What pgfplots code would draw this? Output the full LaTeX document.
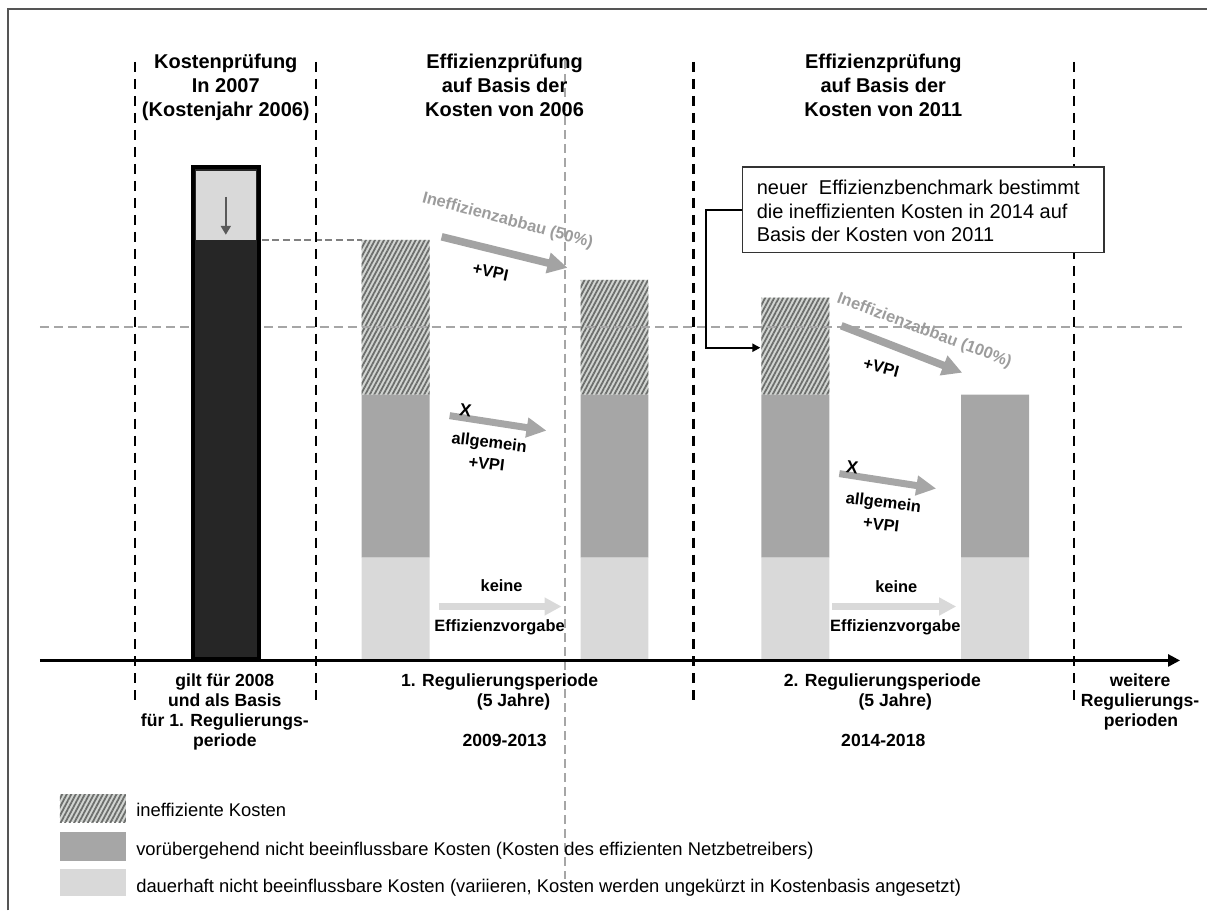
\documentclass[border=0pt]{standalone}
\usepackage{pgfplots}
\pgfplotsset{compat=1.18}
\usepackage{pgfplotstable}
\usepackage{fontspec}
\setmainfont{Liberation Sans}
\usetikzlibrary{arrows.meta,patterns.meta}
\definecolor{cLight}{HTML}{D9D9D9}
\definecolor{cMid}{HTML}{A6A6A6}
\definecolor{cDark}{HTML}{262626}
\definecolor{cHatchBg}{HTML}{D2D5D2}
\definecolor{cHatchFg}{HTML}{6C6E6C}
\definecolor{cArrow}{HTML}{A3A3A3}
\definecolor{cGrayDash}{HTML}{A6A6A6}
\definecolor{cGrayText}{HTML}{9C9C9C}
\definecolor{cFrame}{HTML}{555555}
\tikzset{hatch/.style={fill=cHatchBg, postaction={pattern={Lines[angle=62,distance=2pt,line width=0.9pt]}, pattern color=cHatchFg}}}
\newcommand\fT{\fontsize{10}{12}\selectfont\bfseries}
\newcommand\fB{\fontsize{8.8}{10}\selectfont\bfseries}
\newcommand\fA{\fontsize{8.2}{9.5}\selectfont\bfseries}
\newcommand\fX{\fontsize{8.8}{10}\selectfont\bfseries}
\newcommand\fBox{\fontsize{10}{11.5}\selectfont}
\newcommand\fL{\fontsize{9.2}{10.5}\selectfont}

\pgfplotstableread{
x light mid ineff
396 102 163 155
615 102 163 115
796 102 163 97
996 102 163 0
}\bars

\pgfplotsset{base/.style={scale only axis, width=604pt, height=455.5pt,
  xmin=0, xmax=1208, ymin=-251, ymax=660, hide axis, clip=false}}
\begin{document}
\begin{tikzpicture}
\begin{axis}[base, ybar stacked, bar width=68]
\addplot[fill=cLight, draw=none] table[x=x,y=light]{\bars};
\addplot[fill=cMid, draw=none] table[x=x,y=mid]{\bars};
\addplot[hatch, draw=none] table[x=x,y=ineff]{\bars};
\end{axis}
\begin{axis}[base]
\addplot[draw=none] coordinates {(0,-251) (1208,660)};
% frame
\draw[cFrame, line width=1pt] (axis cs:8,-251) -- (axis cs:8,651) -- (axis cs:1208,651);
% gray dashed guides
\addplot[cGrayDash, line width=1pt, dash pattern=on 4.5pt off 2.5pt] coordinates {(40,333) (1185,333)};
\addplot[cGrayDash, line width=1pt, dash pattern=on 4.5pt off 2.5pt] coordinates {(565,600) (565,-220)};
\addplot[black!50, line width=1pt, dash pattern=on 3.5pt off 1.8pt] coordinates {(262,420) (362,420)};
% black dashed period separators
\addplot[black, line width=1.2pt, dash pattern=on 5pt off 3.5pt] coordinates {(135,598) (135,-43)};
\addplot[black, line width=1.2pt, dash pattern=on 5pt off 3.5pt] coordinates {(316,598) (316,-43)};
\addplot[black, line width=1.2pt, dash pattern=on 5pt off 3.5pt] coordinates {(694,598) (694,-43)};
\addplot[black, line width=1.2pt, dash pattern=on 5pt off 3.5pt] coordinates {(1075,598) (1075,-43)};
% time axis
\addplot[black, line width=1.3pt, -{Triangle[length=6pt,width=6pt]}] coordinates {(40,-1) (1181,-1)};
% cost check bar 2006
\addplot[ybar, bar width=66, fill=cDark, draw=black, line width=2.2pt] coordinates {(226,493)};
\addplot[fill=cLight, draw=none] coordinates {(196,420) (256,420) (256,489) (196,489)};
\addplot[black!65, line width=1pt, -{Triangle[length=4.5pt,width=5pt]}] coordinates {(226,463) (226,425)};
% arrows
\addplot[cArrow, line width=3.8pt, -{Triangle[length=10pt,width=10pt]}] coordinates {(442,423) (568,392)};
\addplot[cArrow, line width=3.8pt, -{Triangle[length=10pt,width=10pt]}] coordinates {(842,334) (963,287)};
\addplot[cMid, line width=3.5pt, -{Triangle[length=10pt,width=9.5pt]}] coordinates {(450,244) (547,229)};
\addplot[cMid, line width=3.5pt, -{Triangle[length=10pt,width=9.5pt]}] coordinates {(840,186) (937,171)};
\addplot[cLight, line width=3.5pt, -{Triangle[length=8.5pt,width=8.5pt]}] coordinates {(439,53) (562,53)};
\addplot[cLight, line width=3.5pt, -{Triangle[length=8.5pt,width=8.5pt]}] coordinates {(833,53) (957,53)};
% connector and text box
\addplot[black, line width=1pt, -{Triangle[length=4pt,width=4pt]}] coordinates {(743,450) (707,450) (707,312) (761,312)};
\filldraw[fill=white, draw=black!80, line width=0.7pt] (axis cs:743,407) rectangle (axis cs:1105,493);
\node[font=\fBox, anchor=base west, inner sep=0] at (axis cs:757,465) {neuer\ \ Effizienzbenchmark bestimmt};
\node[font=\fBox, anchor=base west, inner sep=0] at (axis cs:757,441.5) {die ineffizienten Kosten in 2014 auf};
\node[font=\fBox, anchor=base west, inner sep=0] at (axis cs:757,418) {Basis der Kosten von 2011};
% arrow labels
\node[font=\fA, text=cGrayText, rotate=-15, inner sep=0] at (axis cs:508,439) {Ineffizienzabbau (50\%)};
\node[font=\fA, rotate=-12, inner sep=0] at (axis cs:491,388) {+VPI};
\node[font=\fA, text=cGrayText, rotate=-20.5, inner sep=0] at (axis cs:925,329) {Ineffizienzabbau (100\%)};
\node[font=\fA, rotate=-15, inner sep=0] at (axis cs:882,292) {+VPI};
\node[font=\fX, rotate=-8, inner sep=0] at (axis cs:466,249) {X};
\node[font=\fA, rotate=-7, inner sep=0] at (axis cs:489.5,216) {allgemein};
\node[font=\fA, rotate=-7, inner sep=0] at (axis cs:487,196) {+VPI};
\node[font=\fX, rotate=-8, inner sep=0] at (axis cs:853,192) {X};
\node[font=\fA, rotate=-7, inner sep=0] at (axis cs:884,156) {allgemein};
\node[font=\fA, rotate=-7, inner sep=0] at (axis cs:882,135) {+VPI};
\node[font=\fA, anchor=base, inner sep=0] at (axis cs:502,68) {keine};
\node[font=\fA, anchor=base, inner sep=0] at (axis cs:500,27.5) {Effizienzvorgabe};
\node[font=\fA, anchor=base, inner sep=0] at (axis cs:897,67) {keine};
\node[font=\fA, anchor=base, inner sep=0] at (axis cs:896,27.5) {Effizienzvorgabe};
% titles
\node[font=\fT, anchor=base, inner sep=0] at (axis cs:226,591) {Kostenprüfung};
\node[font=\fT, anchor=base, inner sep=0] at (axis cs:226,567) {In 2007};
\node[font=\fT, anchor=base, inner sep=0] at (axis cs:226,543.5) {(Kostenjahr 2006)};
\node[font=\fT, anchor=base, inner sep=0] at (axis cs:505,591) {Effizienzprüfung};
\node[font=\fT, anchor=base, inner sep=0] at (axis cs:505,567) {auf Basis der};
\node[font=\fT, anchor=base, inner sep=0] at (axis cs:505,543.5) {Kosten von 2006};
\node[font=\fT, anchor=base, inner sep=0] at (axis cs:884,591) {Effizienzprüfung};
\node[font=\fT, anchor=base, inner sep=0] at (axis cs:884,567) {auf Basis der};
\node[font=\fT, anchor=base, inner sep=0] at (axis cs:884,543.5) {Kosten von 2011};
% period labels
\node[font=\fB, anchor=base, inner sep=0] at (axis cs:225,-27) {gilt für 2008};
\node[font=\fB, anchor=base, inner sep=0] at (axis cs:225,-47) {und als Basis};
\node[font=\fB, anchor=base, inner sep=0] at (axis cs:225,-67) {für 1. Regulierungs-};
\node[font=\fB, anchor=base, inner sep=0] at (axis cs:225,-87) {periode};
\node[font=\fB, anchor=base, inner sep=0] at (axis cs:500,-27) {1. Regulierungsperiode};
\node[font=\fB, anchor=base, inner sep=0] at (axis cs:514,-47) {(5 Jahre)};
\node[font=\fB, anchor=base, inner sep=0] at (axis cs:505,-87) {2009-2013};
\node[font=\fB, anchor=base, inner sep=0] at (axis cs:883,-27) {2. Regulierungsperiode};
\node[font=\fB, anchor=base, inner sep=0] at (axis cs:896,-47) {(5 Jahre)};
\node[font=\fB, anchor=base, inner sep=0] at (axis cs:884,-87) {2014-2018};
\node[font=\fB, anchor=base, inner sep=0] at (axis cs:1141,-27) {weitere};
\node[font=\fB, anchor=base, inner sep=0] at (axis cs:1141,-47) {Regulierungs-};
\node[font=\fB, anchor=base, inner sep=0] at (axis cs:1142,-67) {perioden};
% legend
\addplot[hatch, draw=none] coordinates {(60,-135) (126,-135) (126,-163) (60,-163)};
\addplot[fill=cMid, draw=none] coordinates {(60,-173) (126,-173) (126,-202) (60,-202)};
\addplot[fill=cLight, draw=none] coordinates {(60,-210) (126,-210) (126,-237) (60,-237)};
\node[font=\fL, anchor=base west, inner sep=0] at (axis cs:136,-157) {ineffiziente Kosten};
\node[font=\fL, anchor=base west, inner sep=0] at (axis cs:136,-196) {vorübergehend nicht beeinflussbare Kosten (Kosten des effizienten Netzbetreibers)};
\node[font=\fL, anchor=base west, inner sep=0] at (axis cs:136,-233) {dauerhaft nicht beeinflussbare Kosten (variieren, Kosten werden ungekürzt in Kostenbasis angesetzt)};
\end{axis}
\end{tikzpicture}
\end{document}
